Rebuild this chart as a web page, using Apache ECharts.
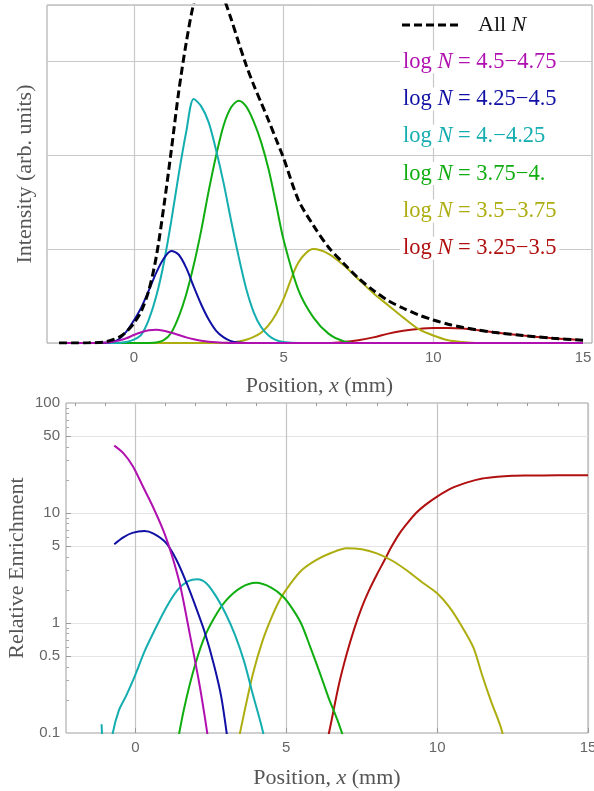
<!DOCTYPE html>
<html>
<head>
<meta charset="utf-8">
<script src="https://cdn.jsdelivr.net/npm/echarts@6/dist/echarts.min.js"></script>
<style>
  html, body { margin: 0; padding: 0; background: #fff; }
  #chart { width: 594px; height: 791px; }
</style>
</head>
<body>
<div id="chart"></div>
<script>
// ---- top panel: intensity vs position ----
var xTop = [-2.5, -2, -1.5, -1, -0.75, -0.5, -0.25, 0, 0.25, 0.5, 0.75, 1, 1.25, 1.5, 1.75, 2, 2.25, 2.5, 2.75, 3,
    3.25, 3.5, 3.75, 4, 4.25, 4.5, 4.75, 5, 5.5, 6, 6.5, 7, 7.5, 8, 8.5, 9, 9.5, 10, 10.5, 11, 11.5, 12, 13, 14, 15];

var intAll = [0, 0, 0.002, 0.01, 0.03, 0.06, 0.12, 0.21, 0.34, 0.56, 0.92, 1.45, 2.05, 2.68, 3.2, 3.62, 3.88, 3.95, 3.88, 3.68,
    3.45, 3.2, 2.96, 2.75, 2.56, 2.37, 2.17, 1.97, 1.52, 1.25, 1.02, 0.85, 0.69, 0.56, 0.45, 0.37, 0.3, 0.245, 0.2, 0.165, 0.138, 0.115, 0.08, 0.05, 0.03];
var intMagenta = [0, 0, 0, 0.003, 0.01, 0.025, 0.05, 0.085, 0.115, 0.135, 0.14, 0.13, 0.11, 0.085, 0.06, 0.04, 0.025, 0.014, 0.007, 0.003,
    0, 0, 0, 0, 0, 0, 0, 0, 0, 0, 0, 0, 0, 0, 0, 0, 0, 0, 0, 0, 0, 0, 0, 0, 0];
var intBlue = [0, 0, 0, 0.003, 0.01, 0.04, 0.12, 0.24, 0.38, 0.56, 0.75, 0.9, 0.98, 0.94, 0.8, 0.6, 0.41, 0.25, 0.13, 0.06,
    0.02, 0.005, 0, 0, 0, 0, 0, 0, 0, 0, 0, 0, 0, 0, 0, 0, 0, 0, 0, 0, 0, 0, 0, 0, 0];
var intCyan = [0, 0, 0, 0, 0, 0.003, 0.01, 0.035, 0.09, 0.25, 0.5, 0.85, 1.3, 1.8, 2.25, 2.6, 2.52, 2.35, 2.05, 1.7,
    1.3, 0.92, 0.58, 0.33, 0.17, 0.08, 0.03, 0.01, 0, 0, 0, 0, 0, 0, 0, 0, 0, 0, 0, 0, 0, 0, 0, 0, 0];
var intGreen = [0, 0, 0, 0, 0, 0, 0, 0, 0, 0, 0.005, 0.03, 0.11, 0.28, 0.52, 0.83, 1.2, 1.62, 2.0, 2.32,
    2.51, 2.58, 2.52, 2.36, 2.14, 1.85, 1.48, 1.1, 0.56, 0.27, 0.1, 0.02, 0, 0, 0, 0, 0, 0, 0, 0, 0, 0, 0, 0, 0];
var intYellow = [0, 0, 0, 0, 0, 0, 0, 0, 0, 0, 0, 0, 0, 0, 0, 0, 0, 0, 0, 0,
    0.005, 0.015, 0.035, 0.065, 0.11, 0.19, 0.31, 0.47, 0.86, 1.0, 0.95, 0.83, 0.68, 0.53, 0.4, 0.27, 0.15, 0.08, 0.03, 0.01, 0, 0, 0, 0, 0];
var intRed = [0, 0, 0, 0, 0, 0, 0, 0, 0, 0, 0, 0, 0, 0, 0, 0, 0, 0, 0, 0,
    0, 0, 0, 0, 0, 0, 0, 0, 0, 0, 0, 0.01, 0.03, 0.06, 0.1, 0.13, 0.15, 0.16, 0.16, 0.155, 0.137, 0.115, 0.08, 0.05, 0.03];

// ---- bottom panel: relative enrichment (log scale), [x, value] ----
var enrMagenta = [[-0.7, 41], [-0.4, 35], [-0.08, 26.5], [0.25, 17.4], [0.58, 11.4], [0.92, 7.0], [1.1, 5.1], [1.3, 3.4],
    [1.5, 2.1], [1.8, 0.8], [2.1, 0.3], [2.3, 0.14], [2.5, 0.06]];
var enrBlue = [[-0.7, 5.2], [-0.4, 6.0], [-0.1, 6.6], [0.3, 6.85], [0.6, 6.5], [1.0, 5.4], [1.35, 3.8], [1.7, 2.3],
    [2.0, 1.4], [2.3, 0.82], [2.6, 0.42], [2.85, 0.21], [3.1, 0.07]];
var enrCyan = [[-1.12, 0.12], [-1.06, 0.07], [-0.9, 0.05], [-0.75, 0.1], [-0.55, 0.16], [-0.3, 0.22], [0, 0.34], [0.3, 0.55],
    [0.6, 0.82], [1.0, 1.35], [1.4, 2.0], [1.75, 2.4], [2.05, 2.5], [2.35, 2.3], [2.7, 1.7], [3.0, 1.2], [3.3, 0.78],
    [3.6, 0.45], [3.9, 0.22], [4.2, 0.11], [4.4, 0.06]];
var enrGreen = [[1.35, 0.07], [1.6, 0.16], [1.9, 0.35], [2.25, 0.7], [2.6, 1.1], [3.0, 1.6], [3.5, 2.1], [4.0, 2.32],
    [4.5, 2.1], [4.9, 1.73], [5.2, 1.35], [5.5, 0.98], [5.8, 0.6], [6.1, 0.36], [6.4, 0.21], [6.7, 0.13], [7.0, 0.075]];
var enrYellow = [[3.35, 0.07], [3.6, 0.15], [3.9, 0.35], [4.2, 0.67], [4.5, 1.1], [4.8, 1.65], [5.1, 2.2], [5.5, 3.0],
    [6.0, 3.75], [6.5, 4.35], [7.0, 4.78], [7.5, 4.68], [8.0, 4.3], [8.5, 3.7], [9.0, 3.0], [9.5, 2.35], [10.0, 1.86],
    [10.4, 1.4], [10.8, 0.95], [11.2, 0.6], [11.5, 0.33], [11.8, 0.19], [12.1, 0.115], [12.3, 0.07]];
var enrRed = [[6.3, 0.07], [6.5, 0.13], [6.75, 0.28], [7.0, 0.52], [7.25, 0.88], [7.5, 1.38], [7.75, 2.0], [8.0, 2.75],
    [8.25, 3.7], [8.5, 5.0], [8.75, 6.5], [9.0, 8.0], [9.3, 10], [9.6, 11.8], [10.0, 14.1], [10.5, 16.9], [11.0, 19.0],
    [11.5, 20.6], [12.0, 21.4], [12.5, 21.8], [13.0, 21.9], [14.0, 22.0], [15.0, 22.0]];

var xLabels = [0, 5, 10, 15];
var xGridTop = [0, 5, 10];
var xMinorTicks = [-2, -1, 1, 2, 3, 4, 6, 7, 8, 9, 11, 12, 13, 14];
var yEnrLabels = [0.1, 0.5, 1, 5, 10, 50, 100];
var yEnrGrid = [0.5, 1, 5, 10, 50];
var yEnrMinor = [0.2, 0.3, 0.4, 0.6, 0.7, 0.8, 0.9, 2, 3, 4, 6, 7, 8, 9, 20, 30, 40, 60, 70, 80, 90];

var legendRanges = ['4.5\u22124.75', '4.25\u22124.5', '4.\u22124.25', '3.75\u22124.', '3.5\u22123.75', '3.25\u22123.5'];
var colors = ['#b010b0', '#1010a4', '#14adb0', '#10ad10', '#adad10', '#b01010'];

var serif = 'Liberation Serif';
var sans = 'Liberation Sans';
var titleColor = '#555';
var tickColor = '#666';

function pairs(ys) {
    return xTop.map(function (x, i) { return [x, ys[i]]; });
}

function curve(name, data, color, xi, yi, extra) {
    var s = {
        name: name, type: 'line', xAxisIndex: xi, yAxisIndex: yi,
        data: data, showSymbol: false, symbol: 'none', smooth: 0.3,
        lineStyle: { color: color, width: 2 }, itemStyle: { color: color },
        silent: true
    };
    if (extra) { s.lineStyle = extra; }
    return s;
}

var nameRich = {
    i: { fontFamily: serif, fontSize: 22, fontStyle: 'italic', color: titleColor }
};

var graphics = [
    { type: 'line', z: 100, shape: { x1: 402, y1: 25, x2: 462, y2: 25 },
      style: { stroke: '#000', lineWidth: 3, lineDash: [8, 4] } },
    { type: 'text', z: 100, x: 478, y: 25,
      style: { text: 'All {i|N}', verticalAlign: 'middle', fill: '#111', fontFamily: serif, fontSize: 22,
          rich: { i: { fontFamily: serif, fontSize: 22, fontStyle: 'italic', fill: '#111' } } } }
];
legendRanges.forEach(function (r, i) {
    graphics.push({
        type: 'text', z: 100, x: 400, y: 61.7 + i * 37.3,
        style: {
            text: 'log {i|N} = ' + r, verticalAlign: 'middle', fill: colors[i],
            fontFamily: serif, fontSize: 22.5, backgroundColor: '#fff', padding: [0, 3],
            rich: { i: { fontFamily: serif, fontSize: 22.5, fontStyle: 'italic', fill: colors[i] } }
        }
    });
});

var option = {
    animation: false,
    backgroundColor: '#fff',
    grid: [
        { left: 47, right: 2, top: 5, height: 338, outerBoundsMode: 'none', show: true,
          borderColor: '#a0a0a0', borderWidth: 1, backgroundColor: 'transparent' },
        { left: 66, right: 6, top: 403, height: 330, outerBoundsMode: 'none', show: true,
          borderColor: '#a0a0a0', borderWidth: 1, backgroundColor: 'transparent' }
    ],
    xAxis: [
        {
            gridIndex: 0, type: 'value', min: -2.9, max: 15.3,
            axisLine: { show: false, onZero: false },
            axisTick: { show: false, customValues: xGridTop },
            axisLabel: { customValues: xLabels, margin: 7, color: tickColor, fontFamily: sans, fontSize: 15 },
            splitLine: { show: true, lineStyle: { color: '#c8c8c8', width: 1.2 } },
            name: 'Position, {i|x} (mm)', nameLocation: 'middle', nameGap: 32,
            nameTextStyle: { fontFamily: serif, fontSize: 22, color: titleColor, rich: nameRich }
        },
        {
            gridIndex: 1, type: 'value', min: -2.3, max: 15,
            axisLine: { show: false, onZero: false },
            axisTick: { show: true, inside: true, length: 5, customValues: xLabels, lineStyle: { color: '#999' } },
            axisLabel: { customValues: xLabels, margin: 7, color: tickColor, fontFamily: sans, fontSize: 15 },
            splitLine: { show: true, lineStyle: { color: '#c4c4c4', width: 1.2 } },
            name: 'Position, {i|x} (mm)', nameLocation: 'middle', nameGap: 34,
            nameTextStyle: { fontFamily: serif, fontSize: 22, color: titleColor, rich: nameRich }
        },
        {
            gridIndex: 1, type: 'value', min: -2.3, max: 15, position: 'top',
            axisLine: { show: false, onZero: false },
            axisTick: { show: true, inside: true, length: 3, customValues: xMinorTicks, lineStyle: { color: '#999' } },
            axisLabel: { show: false },
            splitLine: { show: false }
        }
    ],
    yAxis: [
        {
            gridIndex: 0, type: 'value', min: 0, max: 3.6, interval: 1,
            axisLine: { show: false, onZero: false }, axisTick: { show: false }, axisLabel: { show: false },
            splitLine: { show: true, lineStyle: { color: '#c8c8c8', width: 1.2 } },
            name: 'Intensity (arb. units)', nameLocation: 'middle', nameGap: 11, nameMoveOverlap: false,
            nameTextStyle: { fontFamily: serif, fontSize: 22, color: titleColor }
        },
        {
            gridIndex: 1, type: 'log', logBase: 10, min: 0.1, max: 100, position: 'left',
            axisLine: { show: false, onZero: false },
            axisTick: { show: true, inside: true, length: 5, customValues: yEnrGrid, lineStyle: { color: '#999' } },
            axisLabel: {
                customValues: yEnrLabels, margin: 6, color: tickColor, fontFamily: sans, fontSize: 15,
                formatter: function (v) { return String(parseFloat(Number(v).toPrecision(3))); }
            },
            splitLine: { show: true, lineStyle: { color: '#e4e4e4', width: 1 } },
            name: 'Relative Enrichment', nameLocation: 'middle', nameGap: 38, nameMoveOverlap: false,
            nameTextStyle: { fontFamily: serif, fontSize: 22, color: titleColor }
        },
        {
            gridIndex: 1, type: 'log', logBase: 10, min: 0.1, max: 100, position: 'left',
            axisLine: { show: false, onZero: false },
            axisTick: { show: true, inside: true, length: 3, customValues: yEnrMinor, lineStyle: { color: '#aaa' } },
            axisLabel: { show: false },
            splitLine: { show: false }
        }
    ],
    series: [
        curve('r', pairs(intRed), colors[5], 0, 0),
        curve('y', pairs(intYellow), colors[4], 0, 0),
        curve('g', pairs(intGreen), colors[3], 0, 0),
        curve('c', pairs(intCyan), colors[2], 0, 0),
        curve('b', pairs(intBlue), colors[1], 0, 0),
        curve('m', pairs(intMagenta), colors[0], 0, 0),
        curve('All N', pairs(intAll), '#000', 0, 0, { color: '#000', width: 3, type: [8, 4] }),

        curve('er', enrRed, colors[5], 1, 1),
        curve('ey', enrYellow, colors[4], 1, 1),
        curve('eg', enrGreen, colors[3], 1, 1),
        curve('ec', enrCyan, colors[2], 1, 1),
        curve('eb', enrBlue, colors[1], 1, 1),
        curve('em', enrMagenta, colors[0], 1, 1)
    ],
    graphic: graphics
};

var myChart = echarts.init(document.getElementById('chart'));
myChart.setOption(option);
</script>
</body>
</html>
